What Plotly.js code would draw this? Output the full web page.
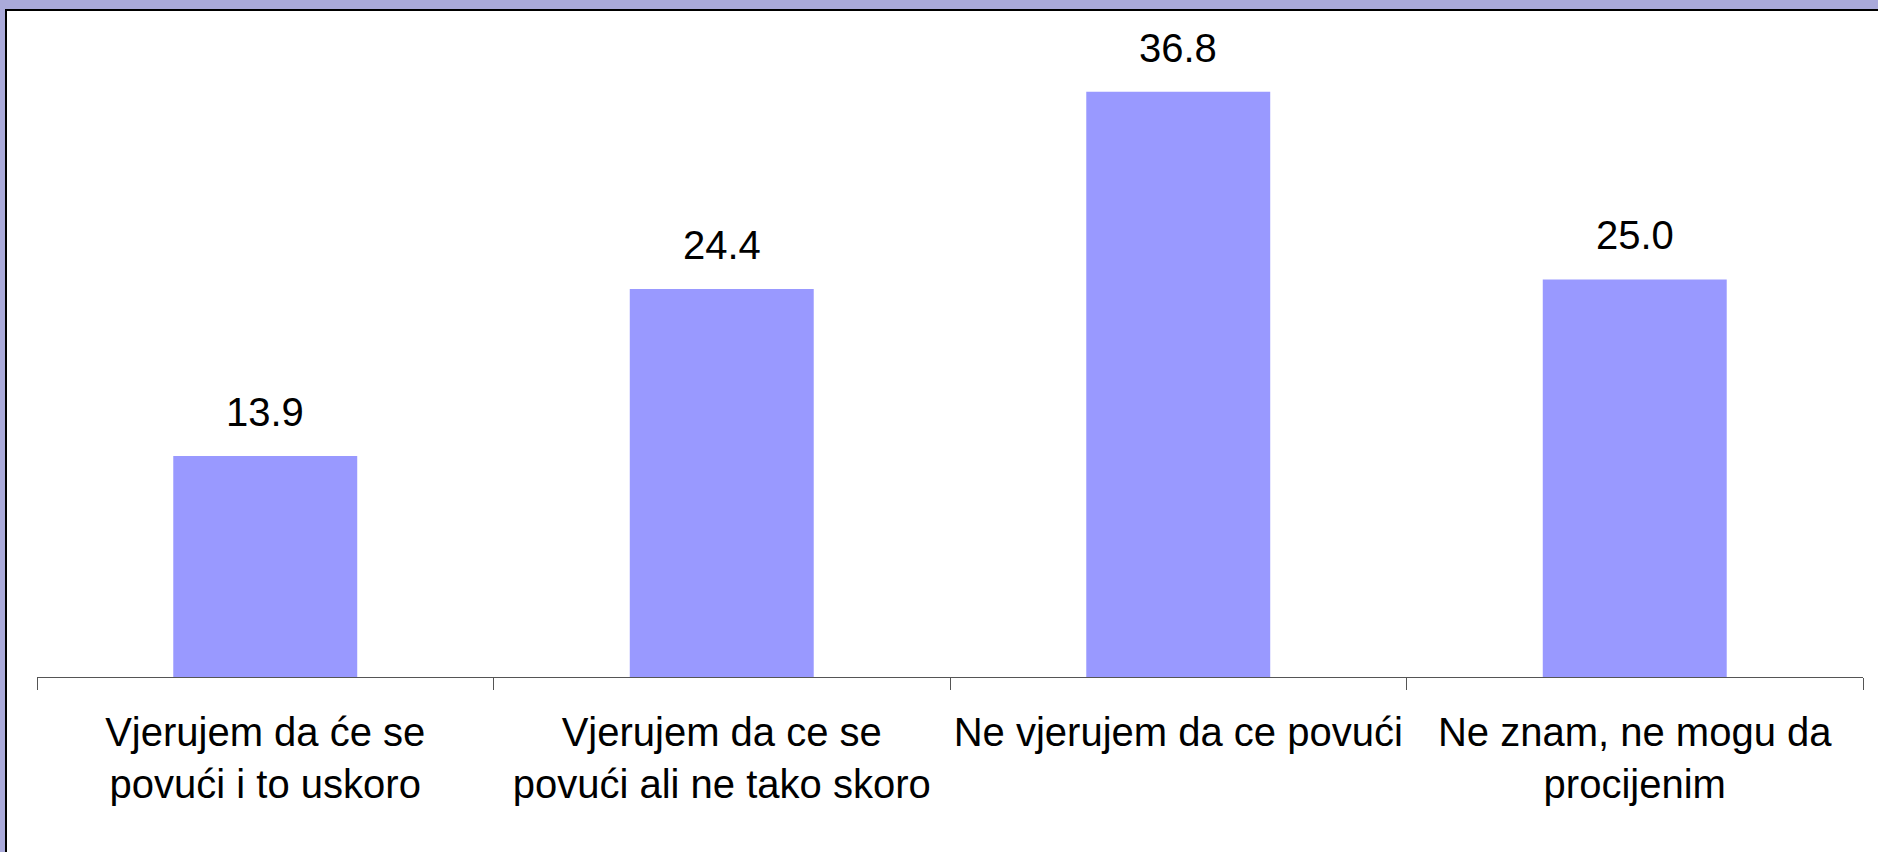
<!DOCTYPE html>
<html>
<head>
<meta charset="utf-8">
<script src="https://cdn.plot.ly/plotly-3.0.1.min.js"></script>
<style>
  html, body { margin: 0; padding: 0; background: #AAAADA; width: 1878px; height: 852px; overflow: hidden; }
  #frame { position: absolute; left: 5px; top: 9px; border-top: 2px solid #000; border-left: 2px solid #000; background: #fff; }
  #chart { width: 1871px; height: 841px; }
</style>
</head>
<body>
<div id="frame"><div id="chart"></div></div>
<script>
const categories = [
  "Vjerujem da će se<br>povući i to uskoro",
  "Vjerujem da ce se<br>povući ali ne tako skoro",
  "Ne vjerujem da ce povući",
  "Ne znam, ne mogu da<br>procijenim"
];
const values = [13.9, 24.4, 36.8, 25.0];
const valueLabels = values.map(v => v.toFixed(1));

const trace = {
  type: 'bar',
  x: categories,
  y: values,
  marker: { color: '#9999FF', line: { width: 0 } },
  hoverinfo: 'none'
};

const annotations = categories.map((c, i) => ({
  x: c, y: values[i], xref: 'x', yref: 'y',
  text: valueLabels[i], showarrow: false,
  yanchor: 'bottom', yshift: 20,
  font: { family: 'Liberation Sans, Arial, sans-serif', size: 40, color: '#000' }
}));

const layout = {
  width: 1871, height: 841,
  margin: { l: 30, r: 15, t: 40, b: 175 },
  paper_bgcolor: '#ffffff',
  plot_bgcolor: '#ffffff',
  showlegend: false,
  bargap: 0.597,
  font: { family: 'Liberation Sans, Arial, sans-serif', color: '#000' },
  xaxis: {
    type: 'category',
    showline: true, linecolor: '#555555', linewidth: 1,
    ticks: 'outside', tickson: 'boundaries', ticklen: 12, tickcolor: '#555555', tickwidth: 1,
    showgrid: false, zeroline: false,
    tickangle: 0,
    tickfont: { family: 'Liberation Sans, Arial, sans-serif', size: 40, color: '#000' },
    ticklabelstandoff: 20,
    fixedrange: true
  },
  yaxis: {
    range: [0, 39.37],
    visible: false, showgrid: false, zeroline: false,
    fixedrange: true
  },
  annotations: annotations
};

Plotly.newPlot('chart', [trace], layout, { displayModeBar: false, staticPlot: true });
</script>
</body>
</html>
